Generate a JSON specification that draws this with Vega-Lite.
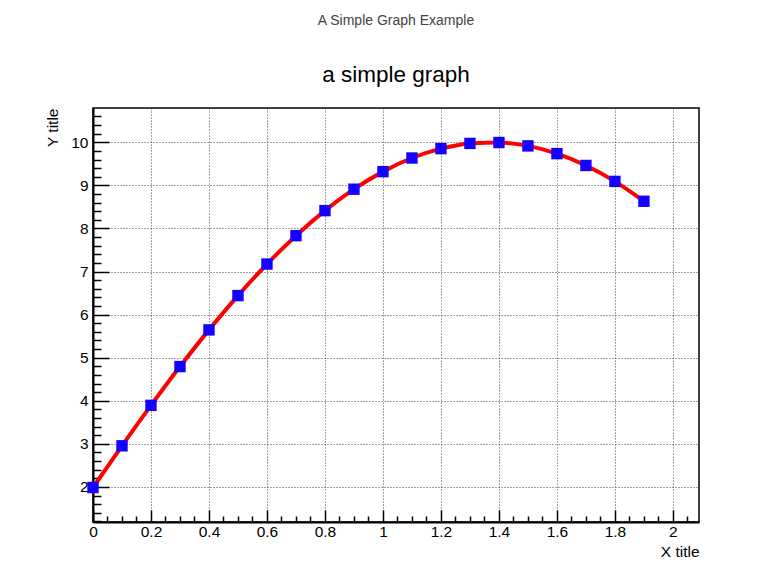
{
  "$schema": "https://vega.github.io/schema/vega-lite/v6.json",
  "width": 606,
  "height": 414,
  "autosize": {"type": "none"},
  "padding": {"left": 93, "top": 108, "right": 58, "bottom": 45},
  "background": "white",
  "title": {
    "text": "A Simple Graph Example",
    "subtitle": "a simple graph",
    "anchor": "middle",
    "font": "Liberation Sans",
    "fontSize": 14,
    "fontWeight": "normal",
    "color": "#444444",
    "subtitleFont": "Liberation Sans",
    "subtitleFontSize": 22.5,
    "subtitleColor": "black",
    "subtitlePadding": 36,
    "offset": 22
  },
  "config": {
    "view": {"stroke": "black", "strokeWidth": 1.5},
    "axis": {
      "labelFont": "Liberation Sans",
      "labelFontSize": 15.5,
      "labelColor": "black",
      "titleFont": "Liberation Sans",
      "titleFontSize": 15.5,
      "titleFontWeight": "normal",
      "titleColor": "black",
      "domainColor": "black",
      "domainWidth": 2,
      "tickColor": "black",
      "tickWidth": 1.5,
      "gridColor": "#444444",
      "gridDash": [1, 2],
      "gridWidth": 1
    }
  },
  "data": {
    "values": [
      {"x": 0.0, "y": 1.987},
      {"x": 0.1, "y": 2.955},
      {"x": 0.2, "y": 3.894},
      {"x": 0.3, "y": 4.794},
      {"x": 0.4, "y": 5.646},
      {"x": 0.5, "y": 6.442},
      {"x": 0.6, "y": 7.174},
      {"x": 0.7, "y": 7.833},
      {"x": 0.8, "y": 8.415},
      {"x": 0.9, "y": 8.912},
      {"x": 1.0, "y": 9.320},
      {"x": 1.1, "y": 9.636},
      {"x": 1.2, "y": 9.854},
      {"x": 1.3, "y": 9.975},
      {"x": 1.4, "y": 9.996},
      {"x": 1.5, "y": 9.917},
      {"x": 1.6, "y": 9.738},
      {"x": 1.7, "y": 9.463},
      {"x": 1.8, "y": 9.093},
      {"x": 1.9, "y": 8.632}
    ]
  },
  "encoding": {
    "x": {
      "field": "x",
      "type": "quantitative",
      "scale": {"domain": [0, 2.09], "nice": false, "zero": false},
      "axis": {
        "title": "X title",
        "titleAnchor": "end",
        "titleAlign": "right",
        "titlePadding": -1,
        "values": [0, 0.05, 0.1, 0.15, 0.2, 0.25, 0.3, 0.35, 0.4, 0.45, 0.5, 0.55, 0.6, 0.65, 0.7, 0.75, 0.8, 0.85, 0.9, 0.95, 1, 1.05, 1.1, 1.15, 1.2, 1.25, 1.3, 1.35, 1.4, 1.45, 1.5, 1.55, 1.6, 1.65, 1.7, 1.75, 1.8, 1.85, 1.9, 1.95, 2, 2.05],
        "labelExpr": "abs(datum.value*5-round(datum.value*5))<0.001 ? format(datum.value, '.2~f') : ''",
        "labelPadding": 14,
        "labelFlush": false,
        "labelOverlap": false,
        "tickSize": {"condition": {"test": "abs(datum.value*5-round(datum.value*5))<0.001", "value": -12}, "value": -6},
        "grid": true,
        "gridOpacity": {"condition": {"test": "abs(datum.value*5-round(datum.value*5))<0.001 && datum.value>0", "value": 1}, "value": 0}
      }
    },
    "y": {
      "field": "y",
      "type": "quantitative",
      "scale": {"domain": [1.186, 10.797], "nice": false, "zero": false},
      "axis": {
        "title": "Y title",
        "titleAnchor": "end",
        "titleAlign": "right",
        "titlePadding": 10,
        "values": [1.2, 1.4, 1.6, 1.8, 2, 2.2, 2.4, 2.6, 2.8, 3, 3.2, 3.4, 3.6, 3.8, 4, 4.2, 4.4, 4.6, 4.8, 5, 5.2, 5.4, 5.6, 5.8, 6, 6.2, 6.4, 6.6, 6.8, 7, 7.2, 7.4, 7.6, 7.8, 8, 8.2, 8.4, 8.6, 8.8, 9, 9.2, 9.4, 9.6, 9.8, 10, 10.2, 10.4, 10.6],
        "labelExpr": "abs(datum.value-round(datum.value))<0.001 ? format(datum.value, 'd') : ''",
        "labelPadding": 21,
        "labelFlush": false,
        "labelOverlap": false,
        "tickSize": {"condition": {"test": "abs(datum.value-round(datum.value))<0.001", "value": -16}, "value": -8},
        "grid": true,
        "gridOpacity": {"condition": {"test": "abs(datum.value-round(datum.value))<0.001", "value": 1}, "value": 0}
      }
    }
  },
  "layer": [
    {"mark": {"type": "line", "color": "#ff0000", "strokeWidth": 4, "interpolate": "monotone"}},
    {"mark": {"type": "square", "color": "#1400ff", "filled": true, "opacity": 1, "size": 130}}
  ]
}
